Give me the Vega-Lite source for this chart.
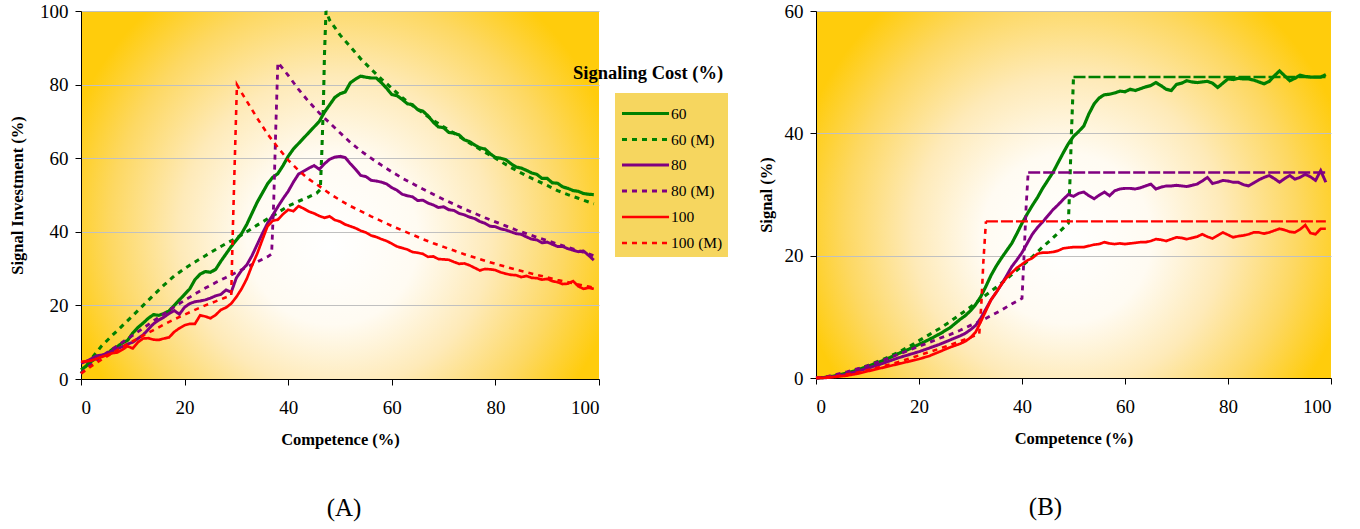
{
"$schema": "https://vega.github.io/schema/vega-lite/v6.json",
"background": "white",
"padding": {"left": 9, "top": 2, "right": 5, "bottom": 5},
"bounds": "flush",
"spacing": 217,
"title": {"text": "Signaling Cost (%)", "anchor": "start", "frame": "group", "offset": 0, "dx": 492, "dy": 80, "fontSize": 18.5, "fontWeight": "bold", "font": "Liberation Serif", "color": "black"},
"datasets": {
"A": [
{"s":"60","x":0,"y":2.5},{"s":"60","x":1,"y":3.5},{"s":"60","x":2,"y":4.8},{"s":"60","x":3,"y":5.8},{"s":"60","x":4,"y":6.3},{"s":"60","x":5,"y":6.8},{"s":"60","x":6,"y":8},{"s":"60","x":7,"y":8.8},{"s":"60","x":8,"y":9.8},{"s":"60","x":9,"y":10.5},{"s":"60","x":10,"y":12.5},{"s":"60","x":11,"y":14},{"s":"60","x":12,"y":15.2},{"s":"60","x":13,"y":16.5},{"s":"60","x":14,"y":17.5},{"s":"60","x":15,"y":17.3},{"s":"60","x":16,"y":17.8},{"s":"60","x":17,"y":18.5},{"s":"60","x":18,"y":20},{"s":"60","x":19,"y":21.5},{"s":"60","x":20,"y":23},{"s":"60","x":21,"y":24.5},{"s":"60","x":22,"y":27},{"s":"60","x":23,"y":28.5},{"s":"60","x":24,"y":29.2},{"s":"60","x":25,"y":29},{"s":"60","x":26,"y":29.8},{"s":"60","x":27,"y":32},{"s":"60","x":28,"y":34},{"s":"60","x":29,"y":36},{"s":"60","x":30,"y":37.8},{"s":"60","x":31,"y":39.5},{"s":"60","x":32,"y":42},{"s":"60","x":33,"y":45},{"s":"60","x":34,"y":48},{"s":"60","x":35,"y":50.5},{"s":"60","x":36,"y":53},{"s":"60","x":37,"y":54.8},{"s":"60","x":38,"y":55.8},{"s":"60","x":39,"y":58},{"s":"60","x":40,"y":60.5},{"s":"60","x":41,"y":62.5},{"s":"60","x":42,"y":64},{"s":"60","x":43,"y":65.5},{"s":"60","x":44,"y":67},{"s":"60","x":45,"y":68.5},{"s":"60","x":46,"y":70},{"s":"60","x":47,"y":72.5},{"s":"60","x":48,"y":74.5},{"s":"60","x":49,"y":76.5},{"s":"60","x":50,"y":77.5},{"s":"60","x":51,"y":78},{"s":"60","x":52,"y":80.5},{"s":"60","x":53,"y":81.5},{"s":"60","x":54,"y":82.3},{"s":"60","x":55,"y":82},{"s":"60","x":56,"y":81.8},{"s":"60","x":57,"y":81.8},{"s":"60","x":58,"y":80.5},{"s":"60","x":59,"y":79},{"s":"60","x":60,"y":77.3},{"s":"60","x":61,"y":77},{"s":"60","x":62,"y":76},{"s":"60","x":63,"y":74.8},{"s":"60","x":64,"y":74.5},{"s":"60","x":65,"y":73.2},{"s":"60","x":66,"y":72.8},{"s":"60","x":67,"y":71.5},{"s":"60","x":68,"y":69.8},{"s":"60","x":69,"y":68.5},{"s":"60","x":70,"y":68.3},{"s":"60","x":71,"y":67},{"s":"60","x":72,"y":66.8},{"s":"60","x":73,"y":66.3},{"s":"60","x":74,"y":65},{"s":"60","x":75,"y":64.5},{"s":"60","x":76,"y":63.6},{"s":"60","x":77,"y":62.8},{"s":"60","x":78,"y":62.5},{"s":"60","x":79,"y":61.2},{"s":"60","x":80,"y":60.2},{"s":"60","x":81,"y":60},{"s":"60","x":82,"y":59.6},{"s":"60","x":83,"y":58.5},{"s":"60","x":84,"y":57.6},{"s":"60","x":85,"y":57.3},{"s":"60","x":86,"y":56.7},{"s":"60","x":87,"y":56},{"s":"60","x":88,"y":55.6},{"s":"60","x":89,"y":54.5},{"s":"60","x":90,"y":54.5},{"s":"60","x":91,"y":53.3},{"s":"60","x":92,"y":53.2},{"s":"60","x":93,"y":52.2},{"s":"60","x":94,"y":51.8},{"s":"60","x":95,"y":51.2},{"s":"60","x":96,"y":51},{"s":"60","x":97,"y":50.4},{"s":"60","x":98,"y":50.2},{"s":"60","x":99,"y":50.1},
{"s":"60 (M)","x":0,"y":1.5},{"s":"60 (M)","x":2,"y":5.5},{"s":"60 (M)","x":4,"y":9},{"s":"60 (M)","x":6,"y":11.8},{"s":"60 (M)","x":8,"y":14.5},{"s":"60 (M)","x":10,"y":17.2},{"s":"60 (M)","x":12,"y":20},{"s":"60 (M)","x":14,"y":22.8},{"s":"60 (M)","x":16,"y":25.5},{"s":"60 (M)","x":18,"y":28},{"s":"60 (M)","x":20,"y":30},{"s":"60 (M)","x":22,"y":31.8},{"s":"60 (M)","x":24,"y":33.5},{"s":"60 (M)","x":26,"y":35.2},{"s":"60 (M)","x":28,"y":36.8},{"s":"60 (M)","x":30,"y":38.3},{"s":"60 (M)","x":32,"y":40},{"s":"60 (M)","x":34,"y":41.8},{"s":"60 (M)","x":36,"y":43.5},{"s":"60 (M)","x":38,"y":45.2},{"s":"60 (M)","x":40,"y":47},{"s":"60 (M)","x":42,"y":48.3},{"s":"60 (M)","x":44,"y":49.5},{"s":"60 (M)","x":45.5,"y":50.5},{"s":"60 (M)","x":46.2,"y":51.5},{"s":"60 (M)","x":46.5,"y":62},{"s":"60 (M)","x":46.8,"y":75},{"s":"60 (M)","x":47,"y":88},{"s":"60 (M)","x":47.3,"y":100},{"s":"60 (M)","x":48,"y":97.5},{"s":"60 (M)","x":50,"y":93.5},{"s":"60 (M)","x":52,"y":90.3},{"s":"60 (M)","x":54,"y":87},{"s":"60 (M)","x":56,"y":84.2},{"s":"60 (M)","x":58,"y":81.5},{"s":"60 (M)","x":60,"y":79},{"s":"60 (M)","x":62,"y":76.5},{"s":"60 (M)","x":64,"y":74.3},{"s":"60 (M)","x":66,"y":72.3},{"s":"60 (M)","x":68,"y":70.3},{"s":"60 (M)","x":70,"y":68.5},{"s":"60 (M)","x":72,"y":66.8},{"s":"60 (M)","x":74,"y":65},{"s":"60 (M)","x":76,"y":63.3},{"s":"60 (M)","x":78,"y":61.6},{"s":"60 (M)","x":80,"y":60},{"s":"60 (M)","x":82,"y":58.3},{"s":"60 (M)","x":84,"y":56.7},{"s":"60 (M)","x":86,"y":55.2},{"s":"60 (M)","x":88,"y":53.9},{"s":"60 (M)","x":90,"y":52.6},{"s":"60 (M)","x":92,"y":51.2},{"s":"60 (M)","x":94,"y":50.1},{"s":"60 (M)","x":96,"y":49.1},{"s":"60 (M)","x":98,"y":48.1},{"s":"60 (M)","x":99,"y":47.6},
{"s":"80","x":0,"y":4.3},{"s":"80","x":1,"y":4.8},{"s":"80","x":2,"y":5.5},{"s":"80","x":3,"y":6.3},{"s":"80","x":4,"y":6.5},{"s":"80","x":5,"y":6.8},{"s":"80","x":6,"y":7.6},{"s":"80","x":7,"y":8.2},{"s":"80","x":8,"y":8.8},{"s":"80","x":9,"y":9.5},{"s":"80","x":10,"y":10},{"s":"80","x":11,"y":11},{"s":"80","x":12,"y":12},{"s":"80","x":13,"y":13.5},{"s":"80","x":14,"y":15},{"s":"80","x":15,"y":16},{"s":"80","x":16,"y":16.8},{"s":"80","x":17,"y":17.8},{"s":"80","x":18,"y":18.6},{"s":"80","x":19,"y":17.6},{"s":"80","x":20,"y":19.5},{"s":"80","x":21,"y":20.5},{"s":"80","x":22,"y":21},{"s":"80","x":23,"y":21.2},{"s":"80","x":24,"y":21.5},{"s":"80","x":25,"y":22},{"s":"80","x":26,"y":22.6},{"s":"80","x":27,"y":23},{"s":"80","x":28,"y":24.2},{"s":"80","x":29,"y":23.6},{"s":"80","x":30,"y":27.5},{"s":"80","x":31,"y":29.5},{"s":"80","x":32,"y":31},{"s":"80","x":33,"y":33.5},{"s":"80","x":34,"y":36.5},{"s":"80","x":35,"y":39.5},{"s":"80","x":36,"y":42.3},{"s":"80","x":37,"y":44.5},{"s":"80","x":38,"y":46.8},{"s":"80","x":39,"y":49},{"s":"80","x":40,"y":51},{"s":"80","x":41,"y":53.5},{"s":"80","x":42,"y":55.7},{"s":"80","x":43,"y":56.5},{"s":"80","x":44,"y":57.3},{"s":"80","x":45,"y":58},{"s":"80","x":46,"y":57},{"s":"80","x":47,"y":58.5},{"s":"80","x":48,"y":59.7},{"s":"80","x":49,"y":60.3},{"s":"80","x":50,"y":60.5},{"s":"80","x":51,"y":60.2},{"s":"80","x":52,"y":58.5},{"s":"80","x":53,"y":57},{"s":"80","x":54,"y":55.3},{"s":"80","x":55,"y":55},{"s":"80","x":56,"y":54},{"s":"80","x":57,"y":53.8},{"s":"80","x":58,"y":53.5},{"s":"80","x":59,"y":53},{"s":"80","x":60,"y":52},{"s":"80","x":61,"y":51.3},{"s":"80","x":62,"y":50.2},{"s":"80","x":63,"y":49.8},{"s":"80","x":64,"y":49.5},{"s":"80","x":65,"y":48.5},{"s":"80","x":66,"y":48.6},{"s":"80","x":67,"y":47.8},{"s":"80","x":68,"y":47.3},{"s":"80","x":69,"y":46.6},{"s":"80","x":70,"y":46.8},{"s":"80","x":71,"y":46},{"s":"80","x":72,"y":45.8},{"s":"80","x":73,"y":45},{"s":"80","x":74,"y":44.6},{"s":"80","x":75,"y":44},{"s":"80","x":76,"y":43.6},{"s":"80","x":77,"y":42.8},{"s":"80","x":78,"y":42.3},{"s":"80","x":79,"y":41.5},{"s":"80","x":80,"y":41.4},{"s":"80","x":81,"y":40.8},{"s":"80","x":82,"y":40.5},{"s":"80","x":83,"y":40},{"s":"80","x":84,"y":39.5},{"s":"80","x":85,"y":39.3},{"s":"80","x":86,"y":38.6},{"s":"80","x":87,"y":38},{"s":"80","x":88,"y":37.8},{"s":"80","x":89,"y":37},{"s":"80","x":90,"y":37.2},{"s":"80","x":91,"y":36.6},{"s":"80","x":92,"y":36},{"s":"80","x":93,"y":36},{"s":"80","x":94,"y":35.4},{"s":"80","x":95,"y":35},{"s":"80","x":96,"y":34.6},{"s":"80","x":97,"y":34.8},{"s":"80","x":98,"y":33.6},{"s":"80","x":99,"y":32.3},
{"s":"80 (M)","x":0,"y":1.5},{"s":"80 (M)","x":2,"y":4},{"s":"80 (M)","x":4,"y":6.2},{"s":"80 (M)","x":6,"y":8.1},{"s":"80 (M)","x":8,"y":10},{"s":"80 (M)","x":10,"y":11.9},{"s":"80 (M)","x":12,"y":13.8},{"s":"80 (M)","x":14,"y":15.8},{"s":"80 (M)","x":16,"y":17.7},{"s":"80 (M)","x":18,"y":19.6},{"s":"80 (M)","x":20,"y":21.4},{"s":"80 (M)","x":22,"y":23.1},{"s":"80 (M)","x":24,"y":24.7},{"s":"80 (M)","x":26,"y":26.2},{"s":"80 (M)","x":28,"y":27.6},{"s":"80 (M)","x":30,"y":29},{"s":"80 (M)","x":32,"y":30.4},{"s":"80 (M)","x":34,"y":31.8},{"s":"80 (M)","x":36,"y":33.2},{"s":"80 (M)","x":36.8,"y":34},{"s":"80 (M)","x":37.2,"y":48},{"s":"80 (M)","x":37.6,"y":68},{"s":"80 (M)","x":38,"y":86},{"s":"80 (M)","x":39,"y":84.3},{"s":"80 (M)","x":40,"y":82.5},{"s":"80 (M)","x":42,"y":78.7},{"s":"80 (M)","x":44,"y":75.3},{"s":"80 (M)","x":46,"y":72.3},{"s":"80 (M)","x":48,"y":69.6},{"s":"80 (M)","x":50,"y":66.9},{"s":"80 (M)","x":52,"y":64.3},{"s":"80 (M)","x":54,"y":62},{"s":"80 (M)","x":56,"y":60},{"s":"80 (M)","x":58,"y":58.1},{"s":"80 (M)","x":60,"y":56.3},{"s":"80 (M)","x":62,"y":54.6},{"s":"80 (M)","x":64,"y":53.1},{"s":"80 (M)","x":66,"y":51.6},{"s":"80 (M)","x":68,"y":50.2},{"s":"80 (M)","x":70,"y":48.8},{"s":"80 (M)","x":72,"y":47.5},{"s":"80 (M)","x":74,"y":46.2},{"s":"80 (M)","x":76,"y":45},{"s":"80 (M)","x":78,"y":43.8},{"s":"80 (M)","x":80,"y":42.7},{"s":"80 (M)","x":82,"y":41.6},{"s":"80 (M)","x":84,"y":40.5},{"s":"80 (M)","x":86,"y":39.5},{"s":"80 (M)","x":88,"y":38.5},{"s":"80 (M)","x":90,"y":37.6},{"s":"80 (M)","x":92,"y":36.7},{"s":"80 (M)","x":94,"y":35.8},{"s":"80 (M)","x":96,"y":34.9},{"s":"80 (M)","x":98,"y":34},{"s":"80 (M)","x":99,"y":33.5},
{"s":"100","x":0,"y":4.7},{"s":"100","x":1,"y":4.8},{"s":"100","x":2,"y":5},{"s":"100","x":3,"y":5.5},{"s":"100","x":4,"y":6},{"s":"100","x":5,"y":6.5},{"s":"100","x":6,"y":7},{"s":"100","x":7,"y":7.2},{"s":"100","x":8,"y":8},{"s":"100","x":9,"y":8.9},{"s":"100","x":10,"y":8.3},{"s":"100","x":11,"y":10},{"s":"100","x":12,"y":11},{"s":"100","x":13,"y":11.1},{"s":"100","x":14,"y":10.7},{"s":"100","x":15,"y":10.6},{"s":"100","x":16,"y":11},{"s":"100","x":17,"y":11.3},{"s":"100","x":18,"y":12.8},{"s":"100","x":19,"y":13.8},{"s":"100","x":20,"y":14.6},{"s":"100","x":21,"y":15},{"s":"100","x":22,"y":15},{"s":"100","x":23,"y":17.3},{"s":"100","x":24,"y":17},{"s":"100","x":25,"y":16.5},{"s":"100","x":26,"y":17.4},{"s":"100","x":27,"y":18.8},{"s":"100","x":28,"y":19.4},{"s":"100","x":29,"y":20.5},{"s":"100","x":30,"y":22.3},{"s":"100","x":31,"y":24.5},{"s":"100","x":32,"y":27.2},{"s":"100","x":33,"y":30.8},{"s":"100","x":34,"y":34},{"s":"100","x":35,"y":37.8},{"s":"100","x":36,"y":41.5},{"s":"100","x":37,"y":43},{"s":"100","x":38,"y":43.3},{"s":"100","x":39,"y":44.8},{"s":"100","x":40,"y":46},{"s":"100","x":41,"y":45.6},{"s":"100","x":42,"y":47},{"s":"100","x":43,"y":46.3},{"s":"100","x":44,"y":45.5},{"s":"100","x":45,"y":45},{"s":"100","x":46,"y":44.3},{"s":"100","x":47,"y":43.8},{"s":"100","x":48,"y":44.2},{"s":"100","x":49,"y":43.2},{"s":"100","x":50,"y":42.8},{"s":"100","x":51,"y":42},{"s":"100","x":52,"y":41.5},{"s":"100","x":53,"y":41},{"s":"100","x":54,"y":40.3},{"s":"100","x":55,"y":39.8},{"s":"100","x":56,"y":39},{"s":"100","x":57,"y":38.6},{"s":"100","x":58,"y":38},{"s":"100","x":59,"y":37.5},{"s":"100","x":60,"y":36.8},{"s":"100","x":61,"y":36},{"s":"100","x":62,"y":35.6},{"s":"100","x":63,"y":35.2},{"s":"100","x":64,"y":34.5},{"s":"100","x":65,"y":34.3},{"s":"100","x":66,"y":34},{"s":"100","x":67,"y":33.2},{"s":"100","x":68,"y":33.3},{"s":"100","x":69,"y":32.6},{"s":"100","x":70,"y":32.5},{"s":"100","x":71,"y":32.4},{"s":"100","x":72,"y":31.8},{"s":"100","x":73,"y":31.3},{"s":"100","x":74,"y":31.4},{"s":"100","x":75,"y":30.9},{"s":"100","x":76,"y":30.2},{"s":"100","x":77,"y":29.5},{"s":"100","x":78,"y":29.9},{"s":"100","x":79,"y":29.8},{"s":"100","x":80,"y":29.6},{"s":"100","x":81,"y":29},{"s":"100","x":82,"y":28.6},{"s":"100","x":83,"y":28.3},{"s":"100","x":84,"y":28.2},{"s":"100","x":85,"y":27.7},{"s":"100","x":86,"y":28},{"s":"100","x":87,"y":27.5},{"s":"100","x":88,"y":27.4},{"s":"100","x":89,"y":27},{"s":"100","x":90,"y":27.2},{"s":"100","x":91,"y":26.6},{"s":"100","x":92,"y":26.3},{"s":"100","x":93,"y":25.8},{"s":"100","x":94,"y":25.9},{"s":"100","x":95,"y":26.6},{"s":"100","x":96,"y":25.2},{"s":"100","x":97,"y":24.5},{"s":"100","x":98,"y":24.8},{"s":"100","x":99,"y":24.5},
{"s":"100 (M)","x":0,"y":1.5},{"s":"100 (M)","x":2,"y":3.5},{"s":"100 (M)","x":4,"y":5.3},{"s":"100 (M)","x":6,"y":7},{"s":"100 (M)","x":8,"y":8.7},{"s":"100 (M)","x":10,"y":10.3},{"s":"100 (M)","x":12,"y":11.8},{"s":"100 (M)","x":14,"y":13.3},{"s":"100 (M)","x":16,"y":14.8},{"s":"100 (M)","x":18,"y":16.2},{"s":"100 (M)","x":20,"y":17.5},{"s":"100 (M)","x":22,"y":18.8},{"s":"100 (M)","x":24,"y":20},{"s":"100 (M)","x":26,"y":21.1},{"s":"100 (M)","x":28,"y":22.2},{"s":"100 (M)","x":29,"y":22.8},{"s":"100 (M)","x":29.3,"y":40},{"s":"100 (M)","x":29.7,"y":60},{"s":"100 (M)","x":30.1,"y":80},{"s":"100 (M)","x":31,"y":77.8},{"s":"100 (M)","x":32,"y":75.5},{"s":"100 (M)","x":34,"y":70.9},{"s":"100 (M)","x":36,"y":66.6},{"s":"100 (M)","x":38,"y":62.9},{"s":"100 (M)","x":40,"y":59.5},{"s":"100 (M)","x":42,"y":56.7},{"s":"100 (M)","x":44,"y":54.3},{"s":"100 (M)","x":46,"y":52.4},{"s":"100 (M)","x":48,"y":50.4},{"s":"100 (M)","x":50,"y":48.6},{"s":"100 (M)","x":52,"y":47},{"s":"100 (M)","x":54,"y":45.6},{"s":"100 (M)","x":56,"y":44.2},{"s":"100 (M)","x":58,"y":42.9},{"s":"100 (M)","x":60,"y":41.6},{"s":"100 (M)","x":62,"y":40.4},{"s":"100 (M)","x":64,"y":39.2},{"s":"100 (M)","x":66,"y":38},{"s":"100 (M)","x":68,"y":36.9},{"s":"100 (M)","x":70,"y":35.9},{"s":"100 (M)","x":72,"y":34.9},{"s":"100 (M)","x":74,"y":33.9},{"s":"100 (M)","x":76,"y":33},{"s":"100 (M)","x":78,"y":32.1},{"s":"100 (M)","x":80,"y":31.3},{"s":"100 (M)","x":82,"y":30.5},{"s":"100 (M)","x":84,"y":29.7},{"s":"100 (M)","x":86,"y":29},{"s":"100 (M)","x":88,"y":28.3},{"s":"100 (M)","x":90,"y":27.6},{"s":"100 (M)","x":92,"y":26.9},{"s":"100 (M)","x":94,"y":26.3},{"s":"100 (M)","x":96,"y":25.7},{"s":"100 (M)","x":98,"y":25.1},{"s":"100 (M)","x":99,"y":24.8}
],
"B": [
{"s":"60","x":0,"y":0},{"s":"60","x":2,"y":0.1},{"s":"60","x":4,"y":0.4},{"s":"60","x":6,"y":0.8},{"s":"60","x":8,"y":1.3},{"s":"60","x":10,"y":1.9},{"s":"60","x":12,"y":2.5},{"s":"60","x":14,"y":3.2},{"s":"60","x":16,"y":4},{"s":"60","x":18,"y":4.7},{"s":"60","x":20,"y":5.5},{"s":"60","x":22,"y":6.3},{"s":"60","x":24,"y":7.2},{"s":"60","x":26,"y":8.2},{"s":"60","x":28,"y":9.6},{"s":"60","x":29,"y":10.2},{"s":"60","x":30,"y":11},{"s":"60","x":31,"y":12},{"s":"60","x":32,"y":13.3},{"s":"60","x":33,"y":15},{"s":"60","x":34,"y":16.8},{"s":"60","x":35,"y":18.3},{"s":"60","x":36,"y":19.6},{"s":"60","x":37,"y":20.8},{"s":"60","x":38,"y":22},{"s":"60","x":39,"y":23.6},{"s":"60","x":40,"y":25.3},{"s":"60","x":41,"y":26.8},{"s":"60","x":42,"y":28.2},{"s":"60","x":43,"y":29.5},{"s":"60","x":44,"y":31},{"s":"60","x":45,"y":32.3},{"s":"60","x":46,"y":33.6},{"s":"60","x":47,"y":35.2},{"s":"60","x":48,"y":36.8},{"s":"60","x":49,"y":38.3},{"s":"60","x":50,"y":39.5},{"s":"60","x":51,"y":40.3},{"s":"60","x":52,"y":41.2},{"s":"60","x":53,"y":43.2},{"s":"60","x":54,"y":44.8},{"s":"60","x":55,"y":45.8},{"s":"60","x":56,"y":46.3},{"s":"60","x":57,"y":46.4},{"s":"60","x":58,"y":46.6},{"s":"60","x":59,"y":46.9},{"s":"60","x":60,"y":46.8},{"s":"60","x":61,"y":47.2},{"s":"60","x":62,"y":47},{"s":"60","x":63,"y":47.3},{"s":"60","x":64,"y":47.6},{"s":"60","x":65,"y":47.8},{"s":"60","x":66,"y":48.3},{"s":"60","x":67,"y":47.8},{"s":"60","x":68,"y":47.2},{"s":"60","x":69,"y":47},{"s":"60","x":70,"y":48},{"s":"60","x":71,"y":48.2},{"s":"60","x":72,"y":48.6},{"s":"60","x":73,"y":48.4},{"s":"60","x":74,"y":48.3},{"s":"60","x":75,"y":48.4},{"s":"60","x":76,"y":48.5},{"s":"60","x":77,"y":48.2},{"s":"60","x":78,"y":47.5},{"s":"60","x":79,"y":48.2},{"s":"60","x":80,"y":48.9},{"s":"60","x":81,"y":48.8},{"s":"60","x":82,"y":49},{"s":"60","x":83,"y":48.9},{"s":"60","x":84,"y":48.9},{"s":"60","x":85,"y":48.7},{"s":"60","x":86,"y":48.4},{"s":"60","x":87,"y":48.1},{"s":"60","x":88,"y":48.5},{"s":"60","x":89,"y":49.4},{"s":"60","x":90,"y":50.2},{"s":"60","x":91,"y":49.4},{"s":"60","x":92,"y":48.6},{"s":"60","x":93,"y":49},{"s":"60","x":94,"y":49.5},{"s":"60","x":95,"y":49.3},{"s":"60","x":96,"y":49.2},{"s":"60","x":97,"y":49.2},{"s":"60","x":98,"y":49.2},{"s":"60","x":99,"y":49.6},
{"s":"60 (M)","x":0,"y":0},{"s":"60 (M)","x":2,"y":0.15},{"s":"60 (M)","x":4,"y":0.46},{"s":"60 (M)","x":6,"y":0.88},{"s":"60 (M)","x":8,"y":1.4},{"s":"60 (M)","x":10,"y":2},{"s":"60 (M)","x":12,"y":2.7},{"s":"60 (M)","x":14,"y":3.4},{"s":"60 (M)","x":16,"y":4.2},{"s":"60 (M)","x":18,"y":5.1},{"s":"60 (M)","x":20,"y":6.1},{"s":"60 (M)","x":22,"y":7.1},{"s":"60 (M)","x":24,"y":8.1},{"s":"60 (M)","x":26,"y":9.2},{"s":"60 (M)","x":28,"y":10.4},{"s":"60 (M)","x":30,"y":11.6},{"s":"60 (M)","x":32,"y":12.9},{"s":"60 (M)","x":34,"y":14.2},{"s":"60 (M)","x":36,"y":15.5},{"s":"60 (M)","x":38,"y":16.9},{"s":"60 (M)","x":40,"y":18.3},{"s":"60 (M)","x":42,"y":19.8},{"s":"60 (M)","x":44,"y":21.4},{"s":"60 (M)","x":46,"y":22.9},{"s":"60 (M)","x":48,"y":24.5},{"s":"60 (M)","x":49,"y":25.3},{"s":"60 (M)","x":49.3,"y":32},{"s":"60 (M)","x":49.6,"y":40},{"s":"60 (M)","x":50,"y":49.2},
{"s":"60 (M) h","x":50,"y":49.2},{"s":"60 (M) h","x":99,"y":49.2},
{"s":"80","x":0,"y":0},{"s":"80","x":2,"y":0.05},{"s":"80","x":4,"y":0.3},{"s":"80","x":6,"y":0.6},{"s":"80","x":8,"y":1.1},{"s":"80","x":10,"y":1.6},{"s":"80","x":12,"y":2.1},{"s":"80","x":14,"y":2.7},{"s":"80","x":16,"y":3.3},{"s":"80","x":18,"y":3.8},{"s":"80","x":20,"y":4.3},{"s":"80","x":22,"y":4.9},{"s":"80","x":24,"y":5.5},{"s":"80","x":26,"y":6.2},{"s":"80","x":28,"y":6.9},{"s":"80","x":29,"y":7.3},{"s":"80","x":30,"y":7.9},{"s":"80","x":31,"y":8.6},{"s":"80","x":32,"y":9.8},{"s":"80","x":33,"y":11.3},{"s":"80","x":34,"y":12.8},{"s":"80","x":35,"y":14},{"s":"80","x":36,"y":15.3},{"s":"80","x":37,"y":16.7},{"s":"80","x":38,"y":18.2},{"s":"80","x":39,"y":19.3},{"s":"80","x":40,"y":20.5},{"s":"80","x":41,"y":22},{"s":"80","x":42,"y":23.5},{"s":"80","x":43,"y":24.6},{"s":"80","x":44,"y":25.5},{"s":"80","x":45,"y":26.5},{"s":"80","x":46,"y":27.5},{"s":"80","x":47,"y":28.3},{"s":"80","x":48,"y":29.2},{"s":"80","x":49,"y":30},{"s":"80","x":50,"y":29.7},{"s":"80","x":51,"y":30.2},{"s":"80","x":52,"y":30.4},{"s":"80","x":53,"y":29.8},{"s":"80","x":54,"y":29.3},{"s":"80","x":55,"y":29.9},{"s":"80","x":56,"y":30.4},{"s":"80","x":57,"y":29.8},{"s":"80","x":58,"y":30.6},{"s":"80","x":59,"y":30.9},{"s":"80","x":60,"y":31},{"s":"80","x":61,"y":31},{"s":"80","x":62,"y":30.9},{"s":"80","x":63,"y":31.1},{"s":"80","x":64,"y":31.4},{"s":"80","x":65,"y":31.7},{"s":"80","x":66,"y":30.9},{"s":"80","x":67,"y":31.2},{"s":"80","x":68,"y":31.4},{"s":"80","x":69,"y":31.4},{"s":"80","x":70,"y":31.5},{"s":"80","x":71,"y":31.4},{"s":"80","x":72,"y":31.3},{"s":"80","x":73,"y":31.5},{"s":"80","x":74,"y":31.7},{"s":"80","x":75,"y":32.2},{"s":"80","x":76,"y":32.8},{"s":"80","x":77,"y":31.8},{"s":"80","x":78,"y":32},{"s":"80","x":79,"y":32.3},{"s":"80","x":80,"y":32.2},{"s":"80","x":81,"y":32},{"s":"80","x":82,"y":32},{"s":"80","x":83,"y":31.6},{"s":"80","x":84,"y":31.4},{"s":"80","x":85,"y":31.9},{"s":"80","x":86,"y":32.4},{"s":"80","x":87,"y":32.8},{"s":"80","x":88,"y":33.1},{"s":"80","x":89,"y":32.6},{"s":"80","x":90,"y":32},{"s":"80","x":91,"y":32.6},{"s":"80","x":92,"y":33.1},{"s":"80","x":93,"y":32.5},{"s":"80","x":94,"y":32.8},{"s":"80","x":95,"y":33.3},{"s":"80","x":96,"y":32.9},{"s":"80","x":97,"y":32.3},{"s":"80","x":98,"y":33.9},{"s":"80","x":99,"y":32},
{"s":"80 (M)","x":0,"y":0},{"s":"80 (M)","x":2,"y":0.2},{"s":"80 (M)","x":4,"y":0.6},{"s":"80 (M)","x":6,"y":1},{"s":"80 (M)","x":8,"y":1.5},{"s":"80 (M)","x":10,"y":2},{"s":"80 (M)","x":12,"y":2.6},{"s":"80 (M)","x":14,"y":3.2},{"s":"80 (M)","x":16,"y":3.9},{"s":"80 (M)","x":18,"y":4.5},{"s":"80 (M)","x":20,"y":5.2},{"s":"80 (M)","x":22,"y":5.8},{"s":"80 (M)","x":24,"y":6.5},{"s":"80 (M)","x":26,"y":7.1},{"s":"80 (M)","x":28,"y":7.8},{"s":"80 (M)","x":30,"y":8.6},{"s":"80 (M)","x":32,"y":9.3},{"s":"80 (M)","x":34,"y":10.2},{"s":"80 (M)","x":36,"y":11.1},{"s":"80 (M)","x":38,"y":12.1},{"s":"80 (M)","x":40,"y":13},{"s":"80 (M)","x":40.4,"y":20},{"s":"80 (M)","x":40.8,"y":28},{"s":"80 (M)","x":41.2,"y":33.6},
{"s":"80 (M) h","x":41.2,"y":33.6},{"s":"80 (M) h","x":99,"y":33.6},
{"s":"100","x":0,"y":0},{"s":"100","x":2,"y":0.05},{"s":"100","x":4,"y":0.2},{"s":"100","x":6,"y":0.4},{"s":"100","x":8,"y":0.7},{"s":"100","x":10,"y":1.1},{"s":"100","x":12,"y":1.5},{"s":"100","x":14,"y":1.9},{"s":"100","x":16,"y":2.3},{"s":"100","x":18,"y":2.7},{"s":"100","x":20,"y":3.1},{"s":"100","x":22,"y":3.6},{"s":"100","x":24,"y":4.3},{"s":"100","x":26,"y":5},{"s":"100","x":28,"y":5.6},{"s":"100","x":29,"y":6},{"s":"100","x":30,"y":6.6},{"s":"100","x":31,"y":7.5},{"s":"100","x":32,"y":9.2},{"s":"100","x":33,"y":11},{"s":"100","x":34,"y":12.8},{"s":"100","x":35,"y":14},{"s":"100","x":36,"y":15.3},{"s":"100","x":37,"y":16.4},{"s":"100","x":38,"y":17.2},{"s":"100","x":39,"y":18},{"s":"100","x":40,"y":18.6},{"s":"100","x":41,"y":19.2},{"s":"100","x":42,"y":19.6},{"s":"100","x":43,"y":20.3},{"s":"100","x":44,"y":20.5},{"s":"100","x":45,"y":20.5},{"s":"100","x":46,"y":20.6},{"s":"100","x":47,"y":20.8},{"s":"100","x":48,"y":21.2},{"s":"100","x":49,"y":21.3},{"s":"100","x":50,"y":21.4},{"s":"100","x":51,"y":21.4},{"s":"100","x":52,"y":21.4},{"s":"100","x":53,"y":21.6},{"s":"100","x":54,"y":21.8},{"s":"100","x":55,"y":21.9},{"s":"100","x":56,"y":22.2},{"s":"100","x":57,"y":22},{"s":"100","x":58,"y":21.9},{"s":"100","x":59,"y":22},{"s":"100","x":60,"y":21.9},{"s":"100","x":61,"y":22},{"s":"100","x":62,"y":22.1},{"s":"100","x":63,"y":22.2},{"s":"100","x":64,"y":22.2},{"s":"100","x":65,"y":22.4},{"s":"100","x":66,"y":22.7},{"s":"100","x":67,"y":22.6},{"s":"100","x":68,"y":22.4},{"s":"100","x":69,"y":22.7},{"s":"100","x":70,"y":23},{"s":"100","x":71,"y":22.9},{"s":"100","x":72,"y":22.7},{"s":"100","x":73,"y":22.9},{"s":"100","x":74,"y":23.1},{"s":"100","x":75,"y":23.5},{"s":"100","x":76,"y":23.1},{"s":"100","x":77,"y":22.8},{"s":"100","x":78,"y":23.3},{"s":"100","x":79,"y":23.8},{"s":"100","x":80,"y":23.4},{"s":"100","x":81,"y":23},{"s":"100","x":82,"y":23.2},{"s":"100","x":83,"y":23.3},{"s":"100","x":84,"y":23.5},{"s":"100","x":85,"y":23.8},{"s":"100","x":86,"y":23.8},{"s":"100","x":87,"y":23.6},{"s":"100","x":88,"y":23.8},{"s":"100","x":89,"y":24.1},{"s":"100","x":90,"y":24.4},{"s":"100","x":91,"y":24.2},{"s":"100","x":92,"y":23.9},{"s":"100","x":93,"y":23.8},{"s":"100","x":94,"y":24.3},{"s":"100","x":95,"y":25},{"s":"100","x":96,"y":23.7},{"s":"100","x":97,"y":23.5},{"s":"100","x":98,"y":24.4},{"s":"100","x":99,"y":24.4},
{"s":"100 (M)","x":0,"y":0},{"s":"100 (M)","x":4,"y":0.3},{"s":"100 (M)","x":8,"y":0.9},{"s":"100 (M)","x":12,"y":1.7},{"s":"100 (M)","x":16,"y":2.6},{"s":"100 (M)","x":20,"y":3.7},{"s":"100 (M)","x":24,"y":4.8},{"s":"100 (M)","x":28,"y":6},{"s":"100 (M)","x":31.7,"y":7.2},{"s":"100 (M)","x":32.1,"y":12},{"s":"100 (M)","x":32.5,"y":19},{"s":"100 (M)","x":33,"y":25.6},
{"s":"100 (M) h","x":33,"y":25.6},{"s":"100 (M) h","x":99,"y":25.6}
]
},
"hconcat": [
{
"width": 518,
"height": 368,
"data": {"name": "A"},
"title": {"text": "(A)", "orient": "bottom", "dx": 4},
"mark": {"type": "line", "clip": false},
"encoding": {
"x": {"field": "x", "type": "quantitative", "scale": {"domain": [0, 100], "nice": false}, "axis": {"values": [0, 20, 40, 60, 80, 100], "title": "Competence (%)"}},
"y": {"field": "y", "type": "quantitative", "scale": {"domain": [0, 100], "nice": false}, "axis": {"values": [0, 20, 40, 60, 80, 100], "title": "Signal Investment (%)", "titlePadding": 14}},
"color": {"field": "s", "type": "nominal",
"scale": {"domain": ["60","60 (M)","80","80 (M)","100","100 (M)","60 (M) h","80 (M) h","100 (M) h"], "range": ["#008000","#008000","#800080","#800080","#ff0000","#ff0000","#008000","#800080","#ff0000"]},
"legend": {"title": " ", "orient": "none", "legendX": 534, "legendY": 82, "values": ["60","60 (M)","80","80 (M)","100","100 (M)"], "fillColor": "#f6d65f", "padding": 5, "symbolType": "M-1,0H5.27", "symbolSize": 225, "labelOffset": 32, "labelFont": "Liberation Serif", "labelFontSize": 15.5, "labelColor": "black", "labelLimit": 0, "titleFontSize": 4, "titlePadding": 2, "rowPadding": 8}},
"strokeDash": {"field": "s", "type": "nominal",
"scale": {"domain": ["60","60 (M)","80","80 (M)","100","100 (M)","60 (M) h","80 (M) h","100 (M) h"], "range": [[1,0],[5,5],[1,0],[5,5],[1,0],[5,5],[12,3],[12,3],[12,3]]}},
"strokeWidth": {"field": "s", "type": "nominal",
"scale": {"domain": ["60","60 (M)","80","80 (M)","100","100 (M)","60 (M) h","80 (M) h","100 (M) h"], "range": [3.2,2.2,3.2,2.2,3.2,2.2,3,3,3]}}
}
},
{
"width": 515,
"height": 367,
"data": {"name": "B"},
"title": {"text": "(B)", "orient": "bottom", "dx": -28},
"mark": {"type": "line", "clip": false},
"encoding": {
"x": {"field": "x", "type": "quantitative", "scale": {"domain": [0, 100], "nice": false}, "axis": {"values": [0, 20, 40, 60, 80, 100], "title": "Competence (%)"}},
"y": {"field": "y", "type": "quantitative", "scale": {"domain": [0, 60], "nice": false}, "axis": {"values": [0, 20, 40, 60], "title": "Signal (%)", "titlePadding": 10}},
"color": {"field": "s", "type": "nominal",
"scale": {"domain": ["60","60 (M)","80","80 (M)","100","100 (M)","60 (M) h","80 (M) h","100 (M) h"], "range": ["#008000","#008000","#800080","#800080","#ff0000","#ff0000","#008000","#800080","#ff0000"]}, "legend": null},
"strokeDash": {"field": "s", "type": "nominal",
"scale": {"domain": ["60","60 (M)","80","80 (M)","100","100 (M)","60 (M) h","80 (M) h","100 (M) h"], "range": [[1,0],[5,5],[1,0],[5,5],[1,0],[5,5],[12,3],[12,3],[12,3]]}, "legend": null},
"strokeWidth": {"field": "s", "type": "nominal",
"scale": {"domain": ["60","60 (M)","80","80 (M)","100","100 (M)","60 (M) h","80 (M) h","100 (M) h"], "range": [3.2,2.2,3.2,2.2,3.2,2.2,3,3,3]}, "legend": null}
}
}
],
"resolve": {
"scale": {"color": "independent", "strokeDash": "independent", "strokeWidth": "independent"},
"legend": {"color": "independent", "strokeDash": "independent", "strokeWidth": "independent"}
},
"config": {
"font": "Liberation Serif",
"view": {"stroke": null, "fill": {"gradient": "radial", "x1": 0.48, "y1": 0.6, "r1": 0, "x2": 0.5, "y2": 0.55, "r2": 0.55,
"stops": [{"offset": 0, "color": "#ffffff"}, {"offset": 0.3, "color": "#fffbf2"}, {"offset": 0.55, "color": "#feeab8"}, {"offset": 0.8, "color": "#fdd862"}, {"offset": 1, "color": "#ffcc0c"}]}},
"axis": {"labelFont": "Liberation Serif", "labelFontSize": 19, "labelColor": "black", "titleFont": "Liberation Serif", "titleFontSize": 16.5, "titleFontWeight": "bold", "titleColor": "black", "domainColor": "black", "tickColor": "black", "tickSize": 6, "gridColor": "#c0c0c0", "labelPadding": 7},
"axisX": {"grid": false, "labelPadding": 13, "titlePadding": 14},
"axisY": {"grid": true},
"title": {"font": "Liberation Serif", "fontSize": 25, "fontWeight": "normal", "color": "black", "offset": 48}
}
}
